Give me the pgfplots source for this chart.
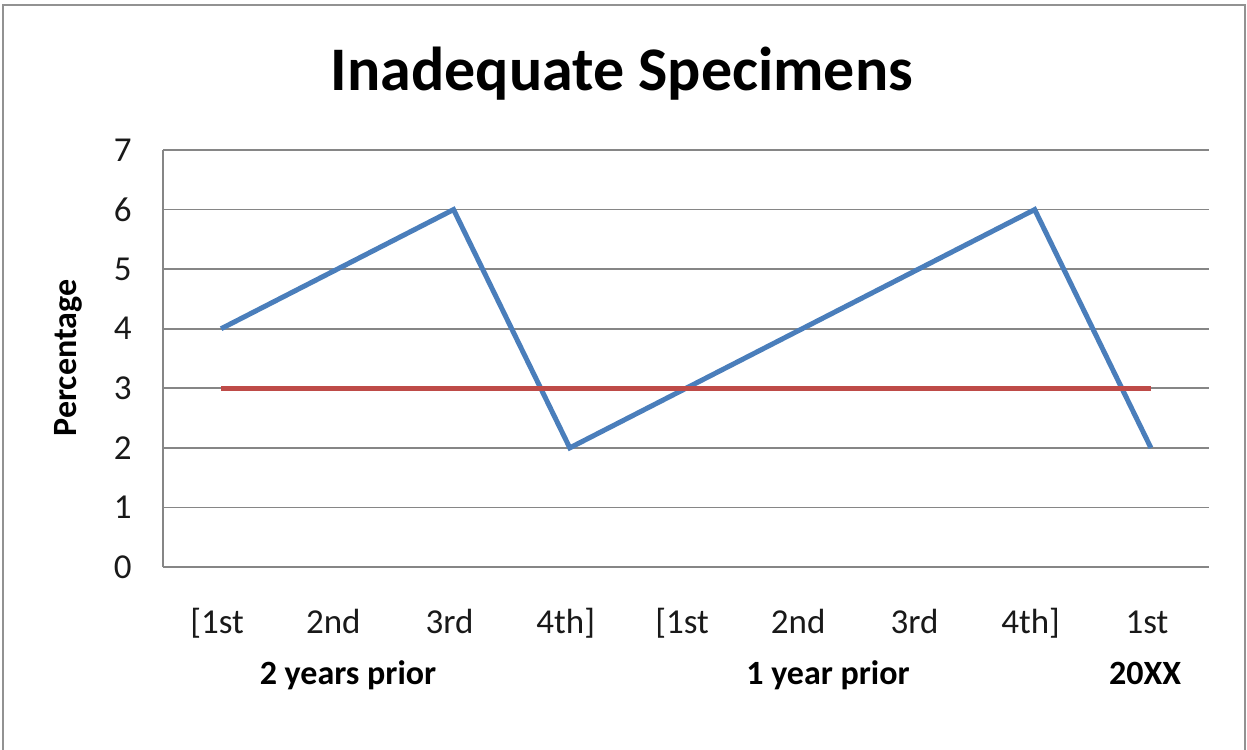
\documentclass[border=0pt]{standalone}
\usepackage{fontspec}
\setmainfont{Carlito}
\usepackage{pgfplots}
\pgfplotsset{compat=1.18}
\definecolor{xblue}{HTML}{4A7EBB}
\definecolor{xred}{HTML}{BE4B48}
\definecolor{xgrid}{HTML}{868686}
\begin{document}
\begin{tikzpicture}[x=1bp,y=1bp]
\path[use as bounding box] (0,0) rectangle (623.5,374.5);
\draw[xgrid!90, line width=1.2bp] (1.5,-5) -- (1.5,372) -- (622.5,372) -- (622.5,-5);
\begin{axis}[
  at={(81.5bp,91bp)}, anchor=south west,
  scale only axis, width=523bp, height=208.5bp,
  xmin=-0.5, xmax=8.5, ymin=0, ymax=7,
  axis x line*=bottom, axis y line*=left,
  axis line style={xgrid, line width=1bp, -},
  ymajorgrids, grid style={xgrid, line width=0.8bp},
  major tick length=0,
  ytick={0,1,2,3,4,5,6,7},
  xtick={0,1,2,3,4,5,6,7,8},
  xticklabels={[1st,2nd,3rd,4th],[1st,2nd,3rd,4th],1st},
  /pgf/number format/assume math mode=true,
  tick label style={font=\fontsize{17.5bp}{21bp}\selectfont, text=black!90},
  yticklabel style={anchor=east, inner sep=0pt, xshift=-15.5bp},
  xticklabel style={anchor=base, inner sep=0pt, yshift=-33bp, xshift=-2bp},
  clip=false,
]
\addplot[xblue, line width=2.5bp] coordinates {(0,4) (1,5) (2,6) (3,2) (4,3) (5,4) (6,5) (7,6) (8,2)};
\addplot[xred, line width=2.5bp] coordinates {(0,3) (1,3) (2,3) (3,3) (4,3) (5,3) (6,3) (7,3) (8,3)};
\end{axis}
\node[anchor=base, inner sep=0pt, font=\fontsize{31bp}{37bp}\selectfont\bfseries] at (311,329.5) {Inadequate Specimens};
\node[rotate=90, inner sep=0pt, font=\fontsize{17bp}{20bp}\selectfont\bfseries] at (34,195.5) {Percentage};
\node[anchor=base, inner sep=0pt, font=\fontsize{17bp}{20bp}\selectfont\bfseries] at (174,32.5) {2 years prior};
\node[anchor=base, inner sep=0pt, font=\fontsize{17bp}{20bp}\selectfont\bfseries] at (414,32.5) {1 year prior};
\node[anchor=base, inner sep=0pt, font=\fontsize{17bp}{20bp}\selectfont\bfseries] at (572.5,32.5) {20XX};
\end{tikzpicture}
\end{document}
